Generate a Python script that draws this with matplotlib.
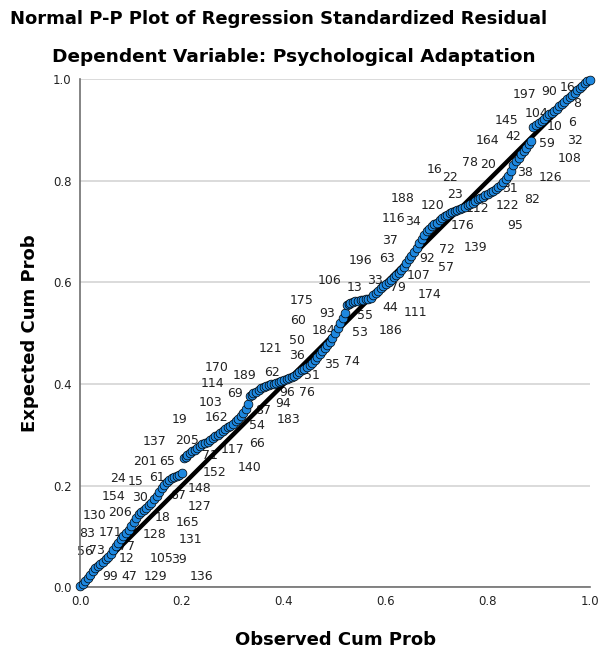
import numpy as np
import matplotlib.pyplot as plt

# observed vs expected cumulative probability
observed = [0.000, 0.005, 0.010, 0.015, 0.020, 0.025, 0.030, 0.035, 0.040, 0.045,
            0.050, 0.055, 0.060, 0.065, 0.070, 0.075, 0.080, 0.085, 0.090, 0.095,
            0.100, 0.105, 0.110, 0.115, 0.120, 0.125, 0.130, 0.135, 0.140, 0.145,
            0.150, 0.155, 0.160, 0.165, 0.170, 0.175, 0.180, 0.185, 0.190, 0.195,
            0.200, 0.203, 0.207, 0.210, 0.215, 0.220, 0.225, 0.230, 0.235, 0.240,
            0.245, 0.250, 0.255, 0.260, 0.265, 0.270, 0.275, 0.280, 0.285, 0.290,
            0.295, 0.300, 0.305, 0.310, 0.315, 0.320, 0.325, 0.330, 0.333, 0.337,
            0.340, 0.345, 0.350, 0.355, 0.360, 0.365, 0.370, 0.375, 0.380, 0.385,
            0.390, 0.395, 0.400, 0.405, 0.410, 0.415, 0.420, 0.425, 0.430, 0.435,
            0.440, 0.445, 0.450, 0.455, 0.460, 0.465, 0.470, 0.475, 0.480, 0.485,
            0.490, 0.495, 0.500, 0.505, 0.510, 0.515, 0.520, 0.523, 0.527, 0.530,
            0.535, 0.540, 0.545, 0.550, 0.555, 0.560, 0.565, 0.570, 0.575, 0.580,
            0.585, 0.590, 0.595, 0.600, 0.605, 0.610, 0.615, 0.620, 0.625, 0.630,
            0.635, 0.640, 0.645, 0.650, 0.655, 0.660, 0.665, 0.670, 0.675, 0.680,
            0.685, 0.690, 0.695, 0.700, 0.705, 0.710, 0.715, 0.720, 0.725, 0.730,
            0.735, 0.740, 0.745, 0.750, 0.755, 0.760, 0.765, 0.770, 0.775, 0.780,
            0.785, 0.790, 0.795, 0.800, 0.805, 0.810, 0.815, 0.820, 0.825, 0.830,
            0.835, 0.840, 0.845, 0.850, 0.855, 0.860, 0.865, 0.870, 0.875, 0.880,
            0.885, 0.889, 0.895, 0.900, 0.905, 0.910, 0.915, 0.920, 0.925, 0.930,
            0.935, 0.940, 0.945, 0.950, 0.955, 0.960, 0.965, 0.970, 0.975, 0.980,
            0.985, 0.990, 0.995, 1.000]
expected = [0.002, 0.006, 0.012, 0.018, 0.024, 0.031, 0.038, 0.042, 0.046, 0.050,
            0.055, 0.060, 0.066, 0.073, 0.080, 0.087, 0.094, 0.100, 0.106, 0.113,
            0.120, 0.128, 0.136, 0.143, 0.148, 0.152, 0.156, 0.161, 0.166, 0.173,
            0.180, 0.188, 0.195, 0.201, 0.206, 0.210, 0.214, 0.217, 0.219, 0.221,
            0.224, 0.254, 0.257, 0.260, 0.264, 0.267, 0.270, 0.274, 0.278, 0.281,
            0.284, 0.286, 0.290, 0.293, 0.297, 0.300, 0.304, 0.308, 0.312, 0.315,
            0.318, 0.322, 0.326, 0.330, 0.336, 0.342, 0.350, 0.360, 0.376, 0.379,
            0.382, 0.385, 0.388, 0.391, 0.393, 0.395, 0.397, 0.399, 0.400, 0.402,
            0.404, 0.406, 0.407, 0.409, 0.411, 0.413, 0.416, 0.420, 0.423, 0.427,
            0.430, 0.433, 0.437, 0.442, 0.447, 0.452, 0.458, 0.464, 0.470, 0.476,
            0.482, 0.490, 0.500, 0.510, 0.520, 0.530, 0.540, 0.556, 0.558, 0.560,
            0.562, 0.563, 0.564, 0.565, 0.566, 0.567, 0.568, 0.570, 0.574, 0.578,
            0.583, 0.588, 0.593, 0.597, 0.601, 0.605, 0.610, 0.614, 0.619, 0.624,
            0.631, 0.638, 0.645, 0.652, 0.660, 0.668, 0.677, 0.686, 0.693, 0.700,
            0.705, 0.710, 0.714, 0.717, 0.722, 0.726, 0.730, 0.733, 0.736, 0.738,
            0.740, 0.742, 0.744, 0.746, 0.749, 0.752, 0.755, 0.757, 0.760, 0.763,
            0.766, 0.768, 0.771, 0.774, 0.777, 0.780, 0.783, 0.787, 0.792, 0.797,
            0.803, 0.810, 0.820, 0.830, 0.838, 0.845, 0.852, 0.858, 0.865, 0.872,
            0.878, 0.905, 0.909, 0.913, 0.918, 0.922, 0.927, 0.931, 0.934, 0.938,
            0.942, 0.946, 0.950, 0.955, 0.960, 0.964, 0.968, 0.973, 0.978, 0.983,
            0.987, 0.992, 0.996, 0.999]

# case labels and where they sit (observed, expected)
case_ids = ["197", "90", "16", "104", "145", "8", "6", "10", "164", "42", "59", "32",
            "108", "78", "20", "38", "126", "16", "22", "31", "122", "82", "23", "112",
            "188", "120", "116", "34", "176", "95", "37", "196", "63", "92", "72", "139",
            "57", "107", "106", "13", "33", "79", "174", "175", "93", "55", "44", "111",
            "184", "53", "186", "60", "50", "121", "36", "35", "74", "170", "189", "62",
            "51", "114", "69", "96", "76", "103", "87", "94", "162", "54", "183", "19",
            "205", "117", "66", "71", "140", "152", "137", "201", "65", "24", "15", "61",
            "148", "154", "30", "67", "127", "130", "206", "18", "165", "83", "171", "128",
            "131", "56", "73", "77", "12", "105", "39", "99", "47", "129", "136"]
case_x = [0.872, 0.921, 0.957, 0.896, 0.837, 0.975, 0.965, 0.931, 0.800, 0.849, 0.916, 0.971,
          0.961, 0.765, 0.800, 0.872, 0.922, 0.696, 0.726, 0.843, 0.839, 0.886, 0.735, 0.780,
          0.633, 0.692, 0.614, 0.653, 0.751, 0.853, 0.608, 0.549, 0.602, 0.680, 0.720, 0.775,
          0.718, 0.663, 0.490, 0.539, 0.578, 0.624, 0.686, 0.435, 0.484, 0.559, 0.608, 0.657,
          0.477, 0.549, 0.608, 0.427, 0.425, 0.373, 0.425, 0.494, 0.533, 0.268, 0.323, 0.376,
          0.455, 0.259, 0.304, 0.406, 0.445, 0.255, 0.359, 0.398, 0.268, 0.347, 0.408, 0.196,
          0.210, 0.300, 0.347, 0.255, 0.333, 0.263, 0.147, 0.127, 0.171, 0.075, 0.108, 0.151,
          0.235, 0.065, 0.118, 0.192, 0.235, 0.029, 0.078, 0.161, 0.210, 0.014, 0.059, 0.147,
          0.216, 0.010, 0.033, 0.092, 0.092, 0.159, 0.194, 0.059, 0.096, 0.147, 0.239]
case_y = [0.969, 0.976, 0.984, 0.933, 0.919, 0.951, 0.915, 0.906, 0.880, 0.886, 0.874, 0.880,
          0.844, 0.835, 0.831, 0.817, 0.807, 0.821, 0.807, 0.785, 0.752, 0.762, 0.772, 0.746,
          0.764, 0.752, 0.726, 0.720, 0.711, 0.711, 0.683, 0.642, 0.646, 0.646, 0.665, 0.669,
          0.630, 0.614, 0.604, 0.590, 0.604, 0.589, 0.575, 0.565, 0.539, 0.535, 0.551, 0.541,
          0.506, 0.502, 0.506, 0.524, 0.486, 0.470, 0.455, 0.439, 0.445, 0.433, 0.417, 0.423,
          0.417, 0.400, 0.382, 0.384, 0.384, 0.364, 0.348, 0.362, 0.333, 0.319, 0.329, 0.329,
          0.289, 0.270, 0.283, 0.260, 0.236, 0.226, 0.287, 0.248, 0.248, 0.213, 0.207, 0.215,
          0.195, 0.179, 0.177, 0.181, 0.159, 0.140, 0.146, 0.138, 0.128, 0.106, 0.108, 0.104,
          0.094, 0.071, 0.073, 0.079, 0.057, 0.057, 0.055, 0.020, 0.020, 0.020, 0.020]

fig = plt.figure(figsize=(6.02, 6.56), dpi=100)
ax = fig.add_axes([0.133, 0.105, 0.847, 0.7745])

ax.set_xlim(0, 1)
ax.set_ylim(0, 1)
ax.grid(axis="y", color="#d4d4d4", linewidth=1.2)
ax.set_axisbelow(True)
for s in ["top", "right"]:
    ax.spines[s].set_visible(False)
for s in ["left", "bottom"]:
    ax.spines[s].set_color("#707070")
    ax.spines[s].set_linewidth(1.2)
ax.set_xticks([0.0, 0.2, 0.4, 0.6, 0.8, 1.0])
ax.set_yticks([0.0, 0.2, 0.4, 0.6, 0.8, 1.0])
ax.set_xticklabels(["0.0", "0.2", "0.4", "0.6", "0.8", "1.0"])
ax.set_yticklabels(["0.0", "0.2", "0.4", "0.6", "0.8", "1.0"])
ax.tick_params(length=0, labelsize=8.5, colors="#222222", pad=6)

# labels go under the markers, like the original output
for lab, lx, ly in zip(case_ids, case_x, case_y):
    ax.text(lx, ly, lab, fontsize=9, ha="center", va="center", color="#222222", zorder=2)

ax.plot([0, 1], [0, 1], color="black", linewidth=3.2, zorder=3)
ax.scatter(observed, expected, s=40, color="#1e88e0", edgecolor="black",
           linewidth=0.5, zorder=4, clip_on=False)

fig.text(0.463, 0.971, "Normal P-P Plot of Regression Standardized Residual",
         ha="center", va="center", fontsize=13, fontweight="bold")
fig.text(0.488, 0.913, "Dependent Variable: Psychological Adaptation",
         ha="center", va="center", fontsize=13.3, fontweight="bold")
ax.set_xlabel("Observed Cum Prob", fontsize=13, fontweight="bold", labelpad=16)
ax.set_ylabel("Expected Cum Prob", fontsize=13, fontweight="bold", labelpad=10)

fig.savefig("out.png", dpi=100)
